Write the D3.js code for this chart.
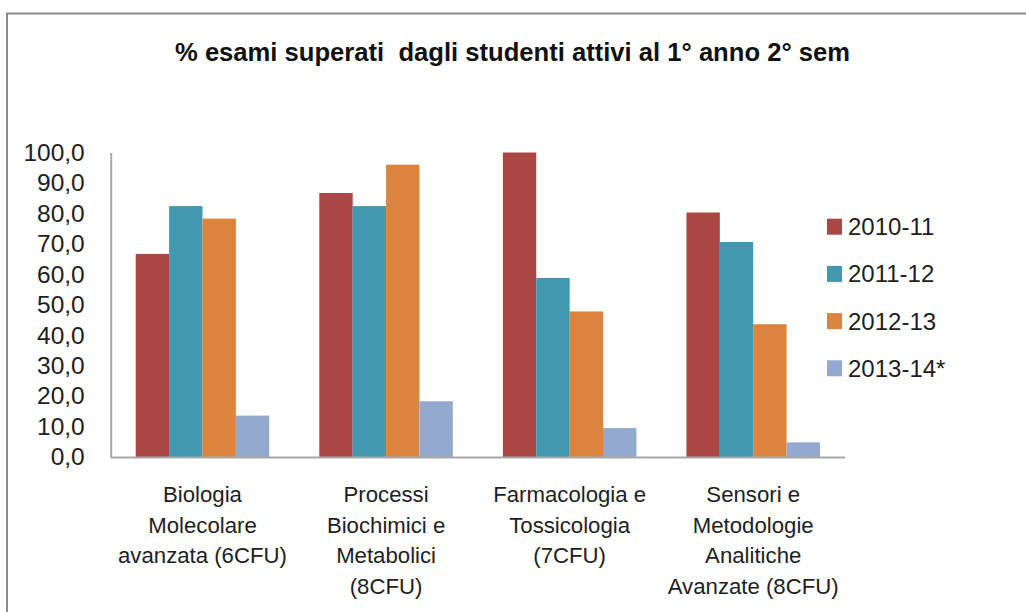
<!DOCTYPE html>
<html>
<head>
<meta charset="utf-8">
<script src="https://cdn.jsdelivr.net/npm/d3@7/dist/d3.min.js"></script>
<style>
  html, body { margin: 0; padding: 0; background: #fff; }
  svg { display: block; }
</style>
</head>
<body>
<svg id="chart" width="1026" height="612"></svg>
<script>
const title = "% esami superati  dagli studenti attivi al 1° anno 2° sem";
const categories = [
  ["Biologia", "Molecolare", "avanzata (6CFU)"],
  ["Processi", "Biochimici e", "Metabolici", "(8CFU)"],
  ["Farmacologia e", "Tossicologia", "(7CFU)"],
  ["Sensori e", "Metodologie", "Analitiche", "Avanzate (8CFU)"]
];
const seriesNames = ["2010-11", "2011-12", "2012-13", "2013-14*"];
const v2010_11 = [66.7, 86.7, 100.0, 80.3];
const v2011_12 = [82.4, 82.4, 58.8, 70.6];
const v2012_13 = [78.3, 96.0, 47.8, 43.6];
const v2013_14 = [13.6, 18.3, 9.5, 4.8];
const yTicks = [0, 10, 20, 30, 40, 50, 60, 70, 80, 90, 100];
const colors = ["#AA4643", "#4198AF", "#DB843D", "#93A9CF"];

const seriesValues = [v2010_11, v2011_12, v2012_13, v2013_14];
const catKeys = categories.map(c => c.join(" "));

const svg = d3.select("#chart");
const FONT = "'Liberation Sans', Arial, sans-serif";

// outer frame (partially visible)
svg.append("path")
  .attr("d", "M7,620 L7,13.5 L1030,13.5")
  .attr("fill", "none")
  .attr("stroke", "#8a8a8a")
  .attr("stroke-width", 2);

const pLeft = 110.7, pRight = 845, pTop = 152.5, pBottom = 457;

const x0 = d3.scaleBand()
  .domain(catKeys)
  .range([pLeft, pRight])
  .paddingInner(1.5 / 5.5)
  .paddingOuter(0.75 / 5.5);

const x1 = d3.scaleBand()
  .domain(seriesNames)
  .range([0, x0.bandwidth()])
  .padding(0);

const y = d3.scaleLinear().domain([0, 100]).range([pBottom, pTop]);

// bars
const groups = svg.append("g").selectAll("g")
  .data(catKeys)
  .join("g")
  .attr("transform", d => `translate(${x0(d)},0)`);

groups.selectAll("rect")
  .data((d, i) => seriesNames.map((s, j) => ({ s, j, v: seriesValues[j][i] })))
  .join("rect")
  .attr("x", d => x1(d.s))
  .attr("y", d => y(d.v))
  .attr("width", x1.bandwidth())
  .attr("height", d => y(0) - y(d.v))
  .attr("fill", d => colors[d.j]);

// y axis
const fmt = v => d3.format(".1f")(v).replace(".", ",");
const yAxis = svg.append("g")
  .attr("transform", `translate(${pLeft},0)`)
  .call(d3.axisLeft(y).tickValues(yTicks).tickFormat(fmt).tickSize(0).tickPadding(26));
yAxis.select(".domain").attr("stroke", "#a8a8a8").attr("stroke-width", 2);
yAxis.selectAll("text")
  .attr("font-family", FONT)
  .attr("font-size", 24.5)
  .attr("fill", "#1e1e1e");

// x axis
const xAxis = svg.append("g")
  .attr("transform", `translate(0,${pBottom})`)
  .call(d3.axisBottom(x0).tickSize(0).tickFormat(""));
xAxis.select(".domain").attr("stroke", "#a8a8a8").attr("stroke-width", 2)
  .attr("d", `M${pLeft},0.5H${pRight}`);

// x labels (multi-line)
xAxis.selectAll(".tick text").remove();
xAxis.selectAll(".tick").each(function(d, i) {
  const t = d3.select(this).append("text")
    .attr("font-family", FONT)
    .attr("font-size", 22.2)
    .attr("fill", "#1e1e1e")
    .attr("text-anchor", "middle");
  categories[i].forEach((line, k) => {
    t.append("tspan")
      .attr("x", 0)
      .attr("y", 45 + k * 30.5)
      .text(line);
  });
});

// title
svg.append("text")
  .attr("x", 512.5)
  .attr("y", 61)
  .attr("text-anchor", "middle")
  .attr("font-family", FONT)
  .attr("font-weight", "bold")
  .attr("font-size", 25)
  .attr("fill", "#111")
  .attr("textLength", 675)
  .attr("lengthAdjust", "spacingAndGlyphs")
  .style("white-space", "pre")
  .text(title);

// legend
const legend = svg.append("g").selectAll("g")
  .data(seriesNames)
  .join("g")
  .attr("transform", (d, i) => `translate(827,${226.7 + i * 47.2})`);
legend.append("rect")
  .attr("x", 0).attr("y", -8)
  .attr("width", 15).attr("height", 16)
  .attr("fill", (d, i) => colors[i]);
legend.append("text")
  .attr("x", 21)
  .attr("y", 0)
  .attr("dy", "0.35em")
  .attr("font-family", FONT)
  .attr("font-size", 24)
  .attr("fill", "#1e1e1e")
  .text(d => d);
</script>
</body>
</html>
